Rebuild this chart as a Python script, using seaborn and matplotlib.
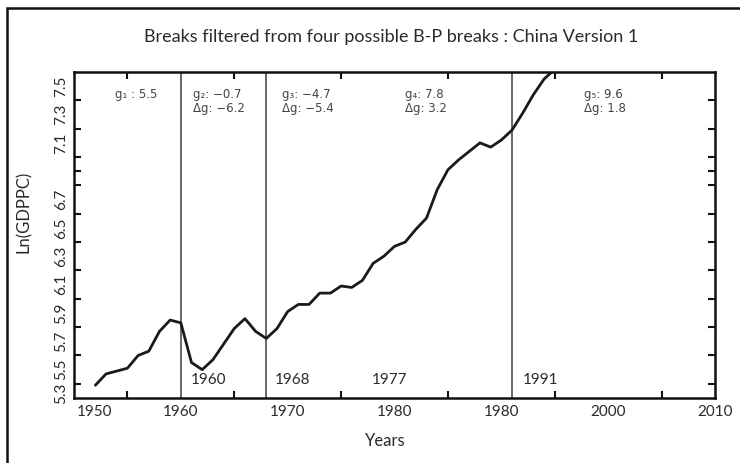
import numpy as np
import pandas as pd
from matplotlib import pyplot as plt
from matplotlib.patches import Rectangle
import seaborn as sns

# ln(GDP per capita), China
years = [1952, 1953, 1954, 1955, 1956, 1957, 1958, 1959, 1960, 1961,
         1962, 1963, 1964, 1965, 1966, 1967, 1968, 1969, 1970, 1971,
         1972, 1973, 1974, 1975, 1976, 1977, 1978, 1979, 1980, 1981,
         1982, 1983, 1984, 1985, 1986, 1987, 1988, 1989, 1990, 1991,
         1992, 1993, 1994, 1995]
ln_gdppc = [5.39, 5.47, 5.49, 5.51, 5.60, 5.63, 5.77, 5.85, 5.83, 5.55,
            5.50, 5.57, 5.68, 5.79, 5.86, 5.77, 5.72, 5.79, 5.91, 5.96,
            5.96, 6.04, 6.04, 6.09, 6.08, 6.13, 6.25, 6.30, 6.37, 6.40,
            6.49, 6.57, 6.77, 6.91, 6.98, 7.04, 7.10, 7.07, 7.12, 7.19,
            7.31, 7.44, 7.55, 7.62]

break_years = [1960, 1968, 1991]
break_labels = ['1960', '1968', '1977', '1991']
break_label_x = [1960.9, 1968.8, 1977.9, 1992.0]

seg_text = ['g\u2081 : 5.5',
            'g\u2082: \u22120.7\n\u0394g: \u22126.2',
            'g\u2083: \u22124.7\n\u0394g: \u22125.4',
            'g\u2084: 7.8\n\u0394g: 3.2',
            'g\u2085: 9.6\n\u0394g: 1.8']
seg_text_x = [1953.8, 1961.1, 1969.5, 1981.0, 1997.7]

xtick_pos = [1951.9, 1960, 1970, 1980, 1990, 2000, 2010]
xtick_lab = ['1950', '1960', '1970', '1980', '1980', '2000', '2010']
ytick_pos = [5.33, 5.5, 5.7, 5.9, 6.1, 6.3, 6.5, 6.7, 7.1, 7.3, 7.5]
ytick_lab = ['5.3', '5.5', '5.7', '5.9', '6.1', '6.3', '6.5', '6.7', '7.1', '7.3', '7.5']

df = pd.DataFrame({'year': years, 'lngdp': ln_gdppc})

sns.set_style('white')
plt.rcParams['font.family'] = ['Lato', 'DejaVu Sans']
geo = ['Lato', 'DejaVu Sans']
txt_col = '#2a2a2a'

fig = plt.figure(figsize=(7.4, 4.63), dpi=100)
ax = fig.add_axes([74 / 740, 1 - 398 / 463, 641 / 740, 326 / 463])

sns.lineplot(data=df, x='year', y='lngdp', color='#1a1a1a', lw=2, ax=ax)

for yr in break_years:
    ax.axvline(yr, color='#666666', lw=1.4, zorder=1)

ax.set_xlim(1950, 2010)
ax.set_ylim(5.3, 7.6)

# labels without marks, marks without labels
ax.set_xticks(xtick_pos, xtick_lab, fontsize=11, family=geo, color=txt_col)
ax.set_yticks(ytick_pos, ytick_lab, fontsize=11, family=geo, color=txt_col,
              rotation=90, va='center')
ax.tick_params(axis='both', which='major', length=0)
ax.tick_params(axis='x', which='major', pad=5)
ax.tick_params(axis='y', which='major', pad=4)
ax.set_xticks(np.arange(1955, 2010, 5), minor=True)
ax.set_yticks(np.arange(5.4, 7.55, 0.1), minor=True)
ax.tick_params(which='minor', direction='in', length=5, width=1.5,
               top=True, right=True, bottom=True, left=True, color='#111111')

for s in ax.spines.values():
    s.set_linewidth(1.8)
    s.set_color('#111111')

for lab, x in zip(seg_text, seg_text_x):
    ax.text(x, 7.49, lab, fontsize=8.5, family='DejaVu Sans', color='#444444',
            va='top', ha='left', linespacing=1.15)

for lab, x in zip(break_labels, break_label_x):
    ax.text(x, 5.43, lab, fontsize=11, family=geo, color=txt_col,
            va='center', ha='left')

ax.set_xlabel('Years', fontsize=12, family=geo, color=txt_col)
ax.xaxis.set_label_coords(0.485, -0.107)
ax.set_ylabel('Ln(GDPPC)', fontsize=12, family=geo, color=txt_col)
ax.yaxis.set_label_coords(-0.066, 0.57)

fig.text(391 / 740, 1 - 37 / 463,
         'Breaks filtered from four possible B-P breaks : China Version 1',
         fontsize=13, family=geo, color=txt_col, ha='center', va='center')

fig.patches.append(Rectangle((7 / 740, -0.1), 2, 1.1 - 8 / 463,
                             transform=fig.transFigure, fill=False,
                             edgecolor='#111111', lw=1.8))

fig.savefig('out.png', dpi=100)
